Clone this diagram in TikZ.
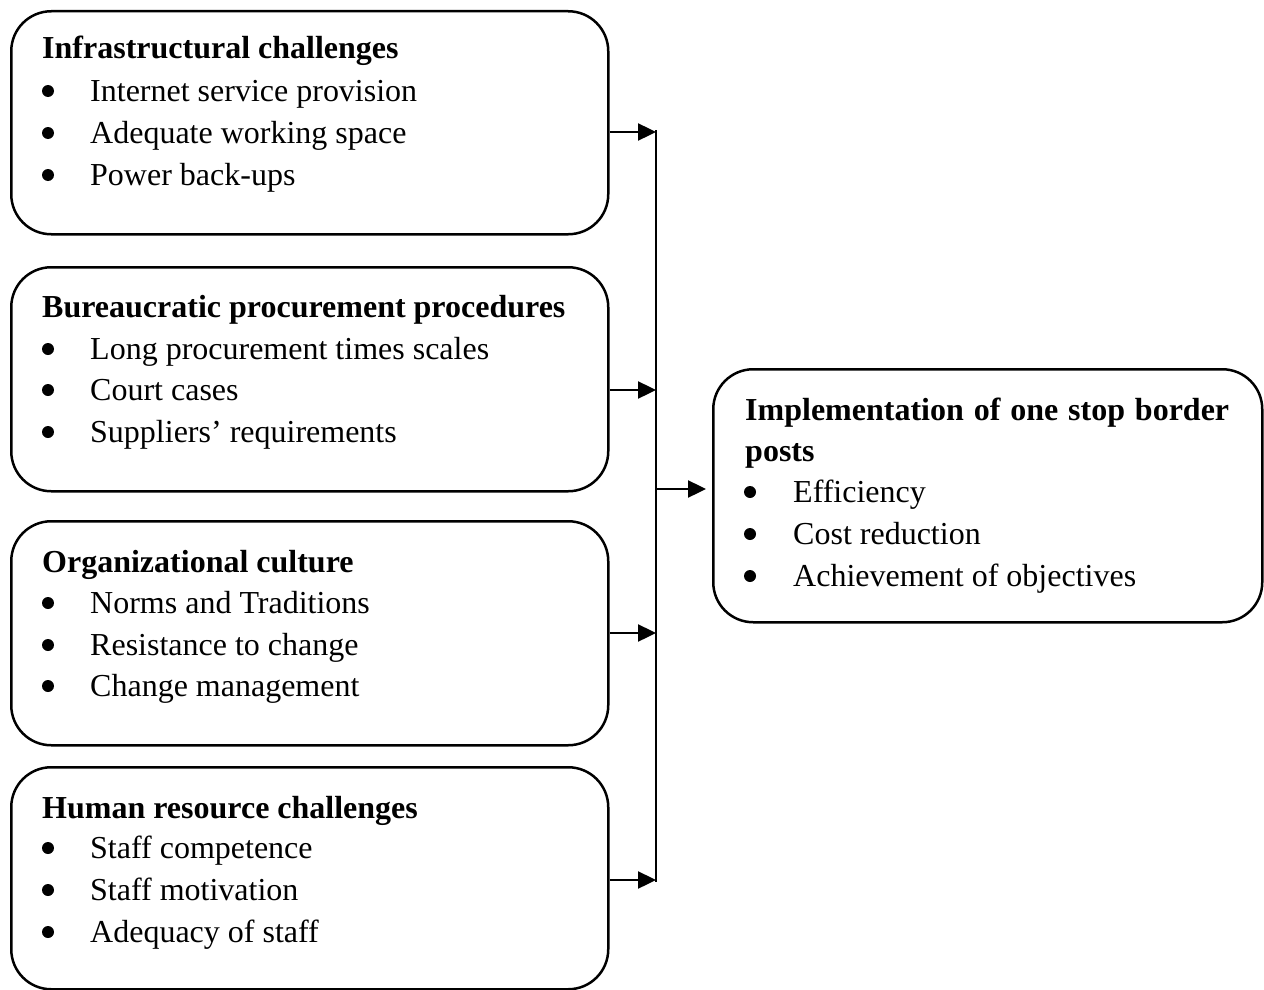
\documentclass[tikz,border=0pt]{standalone}
\usepackage{fontspec}
\setmainfont{Liberation Serif}
\usetikzlibrary{arrows.meta}
\tikzset{
  box/.style={draw, line width=2.5pt, rounded corners=40pt, anchor=north west, inner sep=0pt},
  head/.style={anchor=base west, inner sep=0pt, font=\fontsize{32}{42}\selectfont\bfseries},
  item/.style={anchor=base west, inner sep=0pt, font=\fontsize{32}{42}\selectfont},
  dot/.style={fill, circle, inner sep=0pt, minimum size=12pt},
  arr/.style={line width=2.4pt, -{Triangle[length=18pt,width=17pt]}},
  bus/.style={line width=1.6pt}
}
\begin{document}
\begin{tikzpicture}[x=1pt,y=-1pt]
\useasboundingbox (0,0) rectangle (1264,990);
% boxes
\node[box, minimum width=597pt, minimum height=223pt] (b1) at (10,10) {};
\node[box, minimum width=597pt, minimum height=224pt] (b2) at (10,266) {};
\node[box, minimum width=597pt, minimum height=224pt] (b3) at (10,520) {};
\node[box, minimum width=597pt, minimum height=222pt] (b4) at (10,766) {};
\node[box, minimum width=549pt, minimum height=253pt] (r) at (712,368) {};
% box 1
\node[head] (h1) at (42,59) {Infrastructural challenges};
\foreach \y/\t [count=\i] in {101/Internet service provision,143/Adequate working space,185/Power back-ups}{
  \node[dot] (d1\i) at (48,\y-10) {};
  \node[item] (t1\i) at (90,\y) {\t};
}
% box 2
\node[head] (h2) at (42,317) {Bureaucratic procurement procedures};
\foreach \y/\t [count=\i] in {359/Long procurement times scales,400/Court cases,442/Suppliers’ requirements}{
  \node[dot] (d2\i) at (48,\y-10) {};
  \node[item] (t2\i) at (90,\y) {\t};
}
% box 3
\node[head] (h3) at (42,572) {Organizational culture};
\foreach \y/\t [count=\i] in {613/Norms and Traditions,655/Resistance to change,696/Change management}{
  \node[dot] (d3\i) at (48,\y-10) {};
  \node[item] (t3\i) at (90,\y) {\t};
}
% box 4
\node[head] (h4) at (42,818) {Human resource challenges};
\foreach \y/\t [count=\i] in {858/Staff competence,900/Staff motivation,942/Adequacy of staff}{
  \node[dot] (d4\i) at (48,\y-10) {};
  \node[item] (t4\i) at (90,\y) {\t};
}
% right box
\node[head] (hr1) at (745,420) {\makebox[484pt][s]{Implementation\hfill of\hfill one\hfill stop\hfill border}};
\node[head] (hr2) at (745,461) {posts};
\foreach \y/\t [count=\i] in {502/Efficiency,544/Cost reduction,586/Achievement of objectives}{
  \node[dot] (dr\i) at (750,\y-10) {};
  \node[item] (tr\i) at (793,\y) {\t};
}
% connectors
\coordinate (bt) at (656,130);
\coordinate (bb) at (656,882);
\coordinate (j) at (656,489);
\draw[bus] (bt) -- (bb);
\draw[arr] (b1.east |- {(0,132)}) -- (bt |- {(0,132)});
\draw[arr] (b2.east |- {(0,390)}) -- (bt |- {(0,390)});
\draw[arr] (b3.east |- {(0,633)}) -- (bt |- {(0,633)});
\draw[arr] (b4.east |- {(0,880)}) -- (bt |- {(0,880)});
\draw[arr, shorten >=6pt] (j) -- (r.west |- j);
\end{tikzpicture}
\end{document}
